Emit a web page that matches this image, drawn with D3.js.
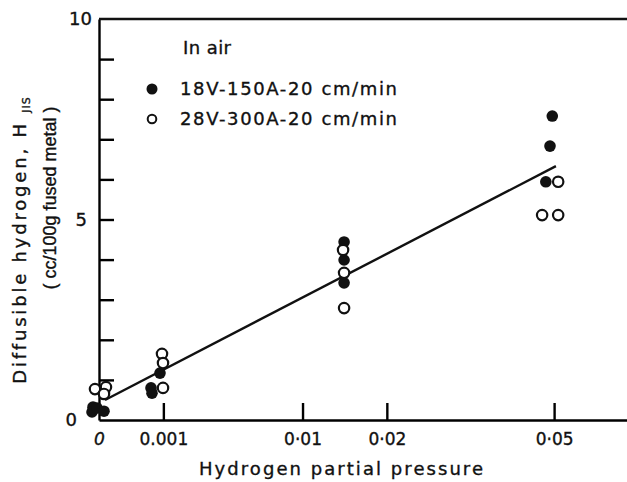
<!DOCTYPE html>
<html>
<head>
<meta charset="utf-8">
<script src="https://cdn.jsdelivr.net/npm/d3@7"></script>
<style>
  body { margin: 0; background: #fff; }
  text { font-family: "DejaVu Sans", sans-serif; fill: #111; stroke: #111; stroke-width: 0.35; }
</style>
</head>
<body>
<svg id="chart" width="627" height="482"></svg>
<script>
// Hydrogen partial pressure (x) vs diffusible hydrogen H_JIS (y)
// series A: filled dots, 18V-150A-20cm/min
const pressA = [-0.0000087, -0.0000118, -0.000001, 0.000006, 0.000653, 0.000678, 0.000898, 0.0145, 0.0145, 0.0145, 0.0496, 0.0491, 0.0482];
const hydroA = [0.32, 0.2, 0.3, 0.22, 0.8, 0.67, 1.17, 4.44, 3.99, 3.42, 7.58, 6.83, 5.94];
// series B: open dots, 28V-300A-20cm/min
const pressB = [-0.0000039, 0.0000118, 0.000006, 0.000958, 0.000989, 0.000989, 0.01438, 0.0145, 0.0145, 0.0509, 0.0474, 0.0509];
const hydroB = [0.77, 0.82, 0.65, 1.65, 1.42, 0.8, 4.24, 3.67, 2.79, 5.94, 5.11, 5.11];
// fitted line (straight against sqrt of pressure)
const fitPress = [0.0000087, 0.0504];
const fitHydro = [0.5, 6.33];

const xTicks = [0, 0.001, 0.01, 0.02, 0.05];
const xTickLabels = ["0", "0.001", "0·01", "0·02", "0·05"];
const yTicks = [0, 1, 2, 3, 4, 5, 6, 7, 8, 9, 10];
const yTickLabels = {0: "0", 5: "5", 10: "10"};

const legendLabels = ["18V-150A-20 cm/min", "28V-300A-20 cm/min"];

const svg = d3.select("#chart");
const plotL = 99, plotR = 627, plotT = 19, plotB = 420;

// sqrt scale (Sieverts' law)
const x = d3.scaleSqrt().domain([0, 0.0673]).range([plotL, plotR]);
const y = d3.scaleLinear().domain([0, 10]).range([plotB, plotT]);

// x axis, ticks pointing up
const xAxis = svg.append("g")
    .attr("transform", `translate(0,${plotB})`)
    .call(d3.axisBottom(x).tickValues(xTicks).tickSize(-17).tickSizeOuter(0).tickPadding(13)
        .tickFormat((d, i) => xTickLabels[i]));
xAxis.select(".domain").attr("stroke-width", 2.4);
xAxis.selectAll(".tick line").attr("stroke-width", 2.4).filter(d => d === 0).remove();
xAxis.selectAll(".tick text").attr("font-size", 17).style("font-family", "DejaVu Sans");
xAxis.selectAll(".tick text").filter(d => d === 0).attr("font-style", "italic");

// y axis, ticks pointing right
const yAxis = svg.append("g")
    .attr("transform", `translate(${plotL},0)`)
    .call(d3.axisLeft(y).tickValues(yTicks).tickSize(-15).tickSizeOuter(0).tickPadding(7)
        .tickFormat(d => yTickLabels[d] || ""));
yAxis.select(".domain").attr("stroke-width", 2.4);
yAxis.selectAll(".tick line").attr("stroke-width", 2.4).filter(d => d === 0 || d === 10).remove();
yAxis.selectAll(".tick text").attr("font-size", 18).style("font-family", "DejaVu Sans");
yAxis.selectAll(".tick text").filter(d => d === 0).attr("x", -22);
yAxis.selectAll(".tick text").filter(d => d === 5).attr("x", -12);

// top frame line
svg.append("line")
    .attr("x1", plotL).attr("x2", plotR).attr("y1", y(10)).attr("y2", y(10))
    .attr("stroke", "#111").attr("stroke-width", 2.4);

// fitted line
svg.append("path")
    .datum(d3.zip(fitPress, fitHydro))
    .attr("d", d3.line().x(d => x(d[0])).y(d => y(d[1])))
    .attr("stroke", "#111").attr("stroke-width", 2.4).attr("fill", "none");

// points
const ptsA = d3.zip(pressA, hydroA);
const ptsB = d3.zip(pressB, hydroB);
svg.append("g").selectAll("circle").data(ptsA).join("circle")
    .attr("cx", d => x(d[0])).attr("cy", d => y(d[1])).attr("r", 5.8)
    .attr("fill", "#111");
svg.append("g").selectAll("circle").data(ptsB).join("circle")
    .attr("cx", d => x(d[0])).attr("cy", d => y(d[1])).attr("r", 5.2)
    .attr("fill", "#fff").attr("stroke", "#111").attr("stroke-width", 2.2);

// legend
const legend = svg.append("g");
legend.append("text").attr("x", 183).attr("y", 54).attr("font-size", 18)
    .attr("textLength", 48).attr("lengthAdjust", "spacing").text("In air");
legend.append("circle").attr("cx", 152).attr("cy", 89).attr("r", 5.5).attr("fill", "#111");
legend.append("circle").attr("cx", 152).attr("cy", 119).attr("r", 4.3)
    .attr("fill", "#fff").attr("stroke", "#111").attr("stroke-width", 2);
legendLabels.forEach((t, i) => {
    legend.append("text").attr("x", 180).attr("y", 95 + i * 30).attr("font-size", 18)
        .attr("textLength", 217).attr("lengthAdjust", "spacing").text(t);
});

// axis titles
svg.append("text").attr("x", (plotL + 583) / 2).attr("y", 475)
    .attr("text-anchor", "middle").attr("font-size", 18)
    .attr("textLength", 284).attr("lengthAdjust", "spacing")
    .text("Hydrogen partial pressure");

const yt1 = svg.append("text")
    .attr("transform", "translate(26,240) rotate(-90)")
    .attr("text-anchor", "middle").attr("font-size", 18);
yt1.append("tspan").attr("letter-spacing", 2.8).text("Diffusible hydrogen, H ");
yt1.append("tspan").attr("font-size", 11).attr("dy", 4).attr("letter-spacing", 1).text("JIS");

svg.append("text")
    .attr("transform", "translate(56,198) rotate(-90)")
    .attr("text-anchor", "middle").attr("font-size", 18)
    .style("font-family", "'Liberation Sans', sans-serif")
    .text("( cc/100g fused metal )");
</script>
</body>
</html>
